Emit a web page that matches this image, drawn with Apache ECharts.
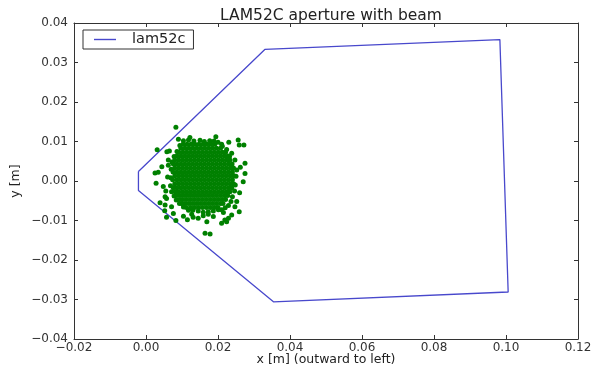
<!DOCTYPE html>
<html>
<head>
<meta charset="utf-8">
<title>LAM52C aperture with beam</title>
<script src="https://cdn.jsdelivr.net/npm/echarts@6/dist/echarts.min.js"></script>
<style>
  html, body { margin: 0; padding: 0; background: #fff; }
  #chart { width: 592px; height: 366px; }
</style>
</head>
<body>
<div id="chart"></div>
<script>
// Aperture outline (closed polygon), metres
const apertureX = [-0.0021, 0.0330, 0.0983, 0.1006, 0.0354, -0.0021, -0.0021];
const apertureY = [0.0024, 0.0333, 0.0358, -0.0281, -0.0306, -0.0024, 0.0024];

// Dense beam core, one row per y with the particle x positions on it
const beamCore = [
  [0.0093, [0.0103, 0.0114, 0.0125, 0.0136, 0.0147, 0.0158, 0.0169, 0.0180, 0.0191]],
  [0.0083, [0.0097, 0.0108, 0.0119, 0.0130, 0.0141, 0.0152, 0.0163, 0.0174, 0.0185, 0.0196, 0.0207]],
  [0.0073, [0.0091, 0.0102, 0.0113, 0.0124, 0.0135, 0.0146, 0.0157, 0.0168, 0.0179, 0.0190, 0.0201, 0.0212, 0.0221]],
  [0.0063, [0.0086, 0.0097, 0.0108, 0.0119, 0.0130, 0.0141, 0.0152, 0.0163, 0.0174, 0.0185, 0.0196, 0.0207, 0.0218, 0.0228]],
  [0.0053, [0.0080, 0.0091, 0.0102, 0.0113, 0.0124, 0.0135, 0.0146, 0.0157, 0.0168, 0.0179, 0.0190, 0.0201, 0.0212, 0.0223, 0.0233]],
  [0.0043, [0.0076, 0.0086, 0.0097, 0.0108, 0.0119, 0.0130, 0.0141, 0.0152, 0.0163, 0.0174, 0.0185, 0.0196, 0.0207, 0.0218, 0.0229, 0.0239]],
  [0.0033, [0.0080, 0.0091, 0.0102, 0.0113, 0.0124, 0.0135, 0.0146, 0.0157, 0.0168, 0.0179, 0.0190, 0.0201, 0.0212, 0.0223, 0.0234, 0.0243]],
  [0.0023, [0.0075, 0.0086, 0.0097, 0.0108, 0.0119, 0.0130, 0.0141, 0.0152, 0.0163, 0.0174, 0.0185, 0.0196, 0.0207, 0.0218, 0.0229, 0.0240]],
  [0.0013, [0.0080, 0.0091, 0.0102, 0.0113, 0.0124, 0.0135, 0.0146, 0.0157, 0.0168, 0.0179, 0.0190, 0.0201, 0.0212, 0.0223, 0.0234, 0.0244]],
  [0.0003, [0.0074, 0.0086, 0.0097, 0.0108, 0.0119, 0.0130, 0.0141, 0.0152, 0.0163, 0.0174, 0.0185, 0.0196, 0.0207, 0.0218, 0.0229, 0.0240]],
  [-0.0007, [0.0080, 0.0091, 0.0102, 0.0113, 0.0124, 0.0135, 0.0146, 0.0157, 0.0168, 0.0179, 0.0190, 0.0201, 0.0212, 0.0223, 0.0234, 0.0243]],
  [-0.0017, [0.0076, 0.0086, 0.0097, 0.0108, 0.0119, 0.0130, 0.0141, 0.0152, 0.0163, 0.0174, 0.0185, 0.0196, 0.0207, 0.0218, 0.0229, 0.0238]],
  [-0.0027, [0.0081, 0.0091, 0.0102, 0.0113, 0.0124, 0.0135, 0.0146, 0.0157, 0.0168, 0.0179, 0.0190, 0.0201, 0.0212, 0.0223, 0.0233]],
  [-0.0037, [0.0086, 0.0097, 0.0108, 0.0119, 0.0130, 0.0141, 0.0152, 0.0163, 0.0174, 0.0185, 0.0196, 0.0207, 0.0218, 0.0227]],
  [-0.0047, [0.0092, 0.0102, 0.0113, 0.0124, 0.0135, 0.0146, 0.0157, 0.0168, 0.0179, 0.0190, 0.0201, 0.0212, 0.0221]],
  [-0.0057, [0.0099, 0.0108, 0.0119, 0.0130, 0.0141, 0.0152, 0.0163, 0.0174, 0.0185, 0.0196, 0.0207, 0.0214]],
  [-0.0067, [0.0112, 0.0124, 0.0135, 0.0146, 0.0157, 0.0168, 0.0179, 0.0190, 0.0200]]
];

// Ragged edge of the core
const beamEdge = [
  [0.0104, 0.0102], [0.0118, 0.0104], [0.0133, 0.0101], [0.0150, 0.0103], [0.0162, 0.0100],
  [0.0177, 0.0102], [0.0189, 0.0101], [0.0200, 0.0098], [0.0122, 0.0110], [0.0094, 0.0090],
  [0.0212, 0.0088], [0.0224, 0.0080], [0.0238, 0.0070], [0.0232, 0.0062], [0.0247, 0.0053],
  [0.0252, 0.0028], [0.0250, 0.0012], [0.0248, -0.0010], [0.0246, -0.0025], [0.0240, -0.0040],
  [0.0236, -0.0052], [0.0229, -0.0062], [0.0220, -0.0068], [0.0210, -0.0073], [0.0201, -0.0073],
  [0.0187, -0.0076], [0.0173, -0.0078], [0.0159, -0.0079], [0.0145, -0.0076], [0.0130, -0.0074],
  [0.0118, -0.0074], [0.0104, -0.0066], [0.0093, -0.0057], [0.0084, -0.0048], [0.0078, -0.0038],
  [0.0071, -0.0027], [0.0068, -0.0012], [0.0069, 0.0008], [0.0070, 0.0030], [0.0072, 0.0048],
  [0.0078, 0.0062], [0.0086, 0.0075]
];

// Stray particles outside the core
const beamHalo = [
  [0.0083, 0.0136], [0.0031, 0.0079], [0.0058, 0.0074], [0.0065, 0.0076], [0.0194, 0.0112],
  [0.0256, 0.0104], [0.0259, 0.0091], [0.0272, 0.0091], [0.0210, 0.0093], [0.0275, 0.0045],
  [0.0275, 0.0019], [0.0270, -0.0002], [0.0044, 0.0036], [0.0025, 0.0020], [0.0034, 0.0022],
  [0.0062, 0.0053], [0.0048, -0.0014], [0.0053, -0.0040], [0.0057, -0.0044], [0.0039, -0.0055],
  [0.0053, -0.0061], [0.0071, -0.0065], [0.0076, -0.0082], [0.0057, -0.0092], [0.0083, -0.0100],
  [0.0104, -0.0089], [0.0127, -0.0084], [0.0131, -0.0092], [0.0028, -0.0006], [0.0252, -0.0052],
  [0.0247, -0.0065], [0.0259, -0.0078], [0.0238, -0.0086], [0.0229, -0.0094], [0.0219, -0.0099],
  [0.0210, -0.0107], [0.0224, -0.0103], [0.0187, -0.0090], [0.0173, -0.0084], [0.0159, -0.0088],
  [0.0169, -0.0103], [0.0164, -0.0132], [0.0178, -0.0134], [0.0215, -0.0080], [0.0145, -0.0094],
  [0.0060, 0.0010], [0.0055, -0.0025], [0.0062, 0.0040], [0.0090, 0.0106], [0.0230, 0.0098],
  [0.0262, 0.0035], [0.0260, -0.0030], [0.0052, -0.0075], [0.0115, -0.0098]
];

const xTicks = { min: -0.02, max: 0.12, step: 0.02 };
const yTicks = { min: -0.04, max: 0.04, step: 0.01 };

const aperture = apertureX.map((x, i) => [x, apertureY[i]]);
const beam = [];
beamCore.forEach(([y, xs]) => xs.forEach(x => beam.push([x, y])));
beamEdge.forEach(p => beam.push(p));
beamHalo.forEach(p => beam.push(p));

const FONT = 'DejaVu Sans';
const INK = '#333';
const LINE_BLUE = '#4848cc';
const fmt = v => (v < -1e-9 ? '\u2212' + (-v).toFixed(2) : Math.abs(v).toFixed(2));

const frameAxis = (extra) => Object.assign({
  type: 'value',
  axisLine: { show: true, onZero: false, lineStyle: { color: INK, width: 1 } },
  axisTick: { show: true, inside: true, length: 4, lineStyle: { color: INK } },
  splitLine: { show: false }
}, extra);

const chart = echarts.init(document.getElementById('chart'), null, { renderer: 'canvas' });
chart.setOption({
  animation: false,
  backgroundColor: '#fff',
  title: {
    text: 'LAM52C aperture with beam',
    left: 326, top: 3, textAlign: 'center',
    textStyle: { fontFamily: FONT, fontSize: 15.5, fontWeight: 'normal', color: '#222' }
  },
  legend: {
    data: [{ name: 'lam52c', icon: 'rect' }],
    left: 83, top: 30,
    orient: 'vertical',
    padding: [2, 8, 2, 11],
    itemWidth: 22, itemHeight: 1.4,
    borderColor: INK, borderWidth: 1,
    textStyle: { fontFamily: FONT, fontSize: 14.5, color: '#222', padding: [0, 0, 0, 11] }
  },
  grid: { left: 74, right: 14, top: 23, bottom: 27, containLabel: false, outerBoundsMode: 'none' },
  xAxis: [
    frameAxis({
      min: xTicks.min, max: xTicks.max, interval: xTicks.step,
      position: 'bottom',
      name: 'x [m] (outward to left)', nameLocation: 'middle', nameGap: 14, nameMoveOverlap: false,
      nameTextStyle: { fontFamily: FONT, fontSize: 12.5, color: '#222' },
      axisLabel: { formatter: fmt, margin: 3, fontFamily: FONT, fontSize: 12, color: INK, showMinLabel: true, showMaxLabel: true }
    }),
    frameAxis({
      min: xTicks.min, max: xTicks.max, interval: xTicks.step,
      position: 'top', axisLabel: { show: false }
    })
  ],
  yAxis: [
    frameAxis({
      min: yTicks.min, max: yTicks.max, interval: yTicks.step,
      position: 'left',
      name: 'y [m]', nameLocation: 'middle', nameGap: 52, nameMoveOverlap: false,
      nameTextStyle: { fontFamily: FONT, fontSize: 12.5, color: '#222' },
      axisLabel: { formatter: fmt, margin: 6, fontFamily: FONT, fontSize: 12, color: INK, showMinLabel: true, showMaxLabel: true }
    }),
    frameAxis({
      min: yTicks.min, max: yTicks.max, interval: yTicks.step,
      position: 'right', axisLabel: { show: false }
    })
  ],
  series: [
    {
      name: 'lam52c',
      type: 'line',
      data: aperture,
      symbol: 'none',
      smooth: false,
      color: LINE_BLUE,
      lineStyle: { color: LINE_BLUE, width: 1.3 },
      z: 2
    },
    {
      name: 'beam',
      type: 'scatter',
      data: beam,
      symbol: 'circle',
      symbolSize: 5,
      itemStyle: { color: '#008000', opacity: 1 },
      z: 3
    }
  ]
});
</script>
</body>
</html>
